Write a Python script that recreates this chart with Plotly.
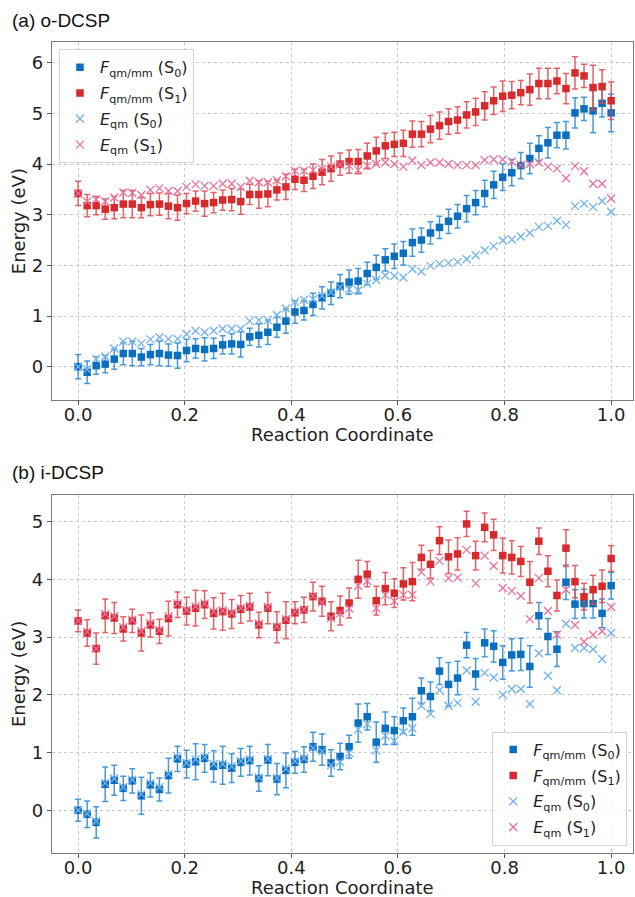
import numpy as np
import plotly.graph_objects as go

# Reaction coordinate: 60 evenly spaced images from 0 to 1
reaction_coord = np.linspace(0.0, 1.0, 60)

# ---------------- (a) o-DCSP ----------------
a_F_S0 = [0.00, -0.11, 0.02, 0.05, 0.15, 0.26, 0.26, 0.19, 0.24, 0.26,
          0.23, 0.22, 0.32, 0.36, 0.34, 0.36, 0.43, 0.45, 0.44, 0.59,
          0.62, 0.68, 0.78, 0.90, 1.08, 1.11, 1.23, 1.36, 1.45, 1.59,
          1.67, 1.69, 1.84, 1.96, 2.11, 2.18, 2.24, 2.45, 2.50, 2.64,
          2.75, 2.87, 2.97, 3.12, 3.24, 3.42, 3.59, 3.74, 3.83, 3.97,
          4.11, 4.31, 4.42, 4.57, 4.57, 5.01, 5.09, 5.05, 5.20, 5.01]
a_F_S0_err = [0.24, 0.22, 0.17, 0.17, 0.20, 0.22, 0.24, 0.17, 0.20, 0.24,
              0.22, 0.25, 0.22, 0.19, 0.23, 0.20, 0.18, 0.20, 0.25, 0.17,
              0.23, 0.24, 0.20, 0.24, 0.22, 0.19, 0.22, 0.22, 0.22, 0.23,
              0.24, 0.25, 0.22, 0.24, 0.22, 0.24, 0.23, 0.27, 0.24, 0.22,
              0.22, 0.24, 0.23, 0.26, 0.24, 0.26, 0.27, 0.26, 0.26, 0.26,
              0.30, 0.25, 0.30, 0.25, 0.27, 0.30, 0.23, 0.43, 0.27, 0.37]
a_F_S1 = [3.42, 3.18, 3.18, 3.11, 3.14, 3.21, 3.21, 3.14, 3.20, 3.21,
          3.17, 3.14, 3.22, 3.27, 3.22, 3.24, 3.29, 3.30, 3.26, 3.40,
          3.40, 3.41, 3.49, 3.55, 3.70, 3.68, 3.76, 3.84, 3.91, 4.00,
          4.05, 4.05, 4.16, 4.26, 4.36, 4.39, 4.41, 4.59, 4.59, 4.69,
          4.76, 4.84, 4.87, 4.97, 5.03, 5.15, 5.25, 5.34, 5.36, 5.41,
          5.47, 5.59, 5.59, 5.64, 5.49, 5.80, 5.74, 5.51, 5.53, 5.25]
a_F_S1_err = [0.24, 0.22, 0.18, 0.20, 0.22, 0.27, 0.27, 0.20, 0.22, 0.22,
              0.25, 0.25, 0.20, 0.20, 0.25, 0.20, 0.20, 0.22, 0.25, 0.20,
              0.27, 0.25, 0.20, 0.25, 0.20, 0.22, 0.24, 0.25, 0.25, 0.22,
              0.23, 0.24, 0.25, 0.27, 0.25, 0.24, 0.26, 0.26, 0.25, 0.27,
              0.27, 0.25, 0.26, 0.26, 0.27, 0.28, 0.27, 0.30, 0.27, 0.24,
              0.31, 0.30, 0.30, 0.25, 0.30, 0.32, 0.23, 0.44, 0.33, 0.37]
a_E_S0 = [0.00, -0.05, 0.16, 0.20, 0.36, 0.50, 0.50, 0.46, 0.54, 0.58,
          0.55, 0.55, 0.64, 0.71, 0.68, 0.71, 0.75, 0.75, 0.75, 0.90,
          0.92, 0.92, 1.02, 1.15, 1.28, 1.32, 1.33, 1.40, 1.47, 1.57,
          1.53, 1.51, 1.64, 1.71, 1.80, 1.79, 1.76, 1.93, 1.88, 1.99,
          2.03, 2.05, 2.07, 2.12, 2.20, 2.30, 2.38, 2.49, 2.51, 2.57,
          2.64, 2.76, 2.78, 2.88, 2.80, 3.17, 3.22, 3.15, 3.27, 3.06]
a_E_S1 = [3.42, 3.26, 3.30, 3.26, 3.34, 3.44, 3.43, 3.39, 3.49, 3.52,
          3.47, 3.47, 3.55, 3.60, 3.57, 3.57, 3.61, 3.61, 3.55, 3.67,
          3.64, 3.64, 3.68, 3.76, 3.87, 3.87, 3.88, 3.90, 3.95, 3.99,
          3.97, 3.88, 3.97, 4.00, 4.03, 4.00, 3.95, 4.07, 3.98, 4.03,
          4.03, 4.00, 3.98, 3.98, 3.98, 4.08, 4.09, 4.09, 4.05, 3.98,
          4.00, 4.03, 3.95, 3.91, 3.72, 3.96, 3.86, 3.61, 3.61, 3.32]

# ---------------- (b) i-DCSP ----------------
b_F_S0 = [0.00, -0.07, -0.21, 0.45, 0.52, 0.38, 0.51, 0.25, 0.44, 0.36,
          0.60, 0.89, 0.80, 0.84, 0.90, 0.76, 0.78, 0.73, 0.83, 0.86,
          0.55, 0.87, 0.54, 0.69, 0.83, 0.88, 1.10, 1.05, 0.82, 0.93,
          1.10, 1.51, 1.62, 1.18, 1.42, 1.38, 1.55, 1.62, 2.07, 1.97,
          2.41, 2.18, 2.29, 2.86, 2.36, 2.90, 2.84, 2.56, 2.69, 2.70,
          2.49, 3.37, 3.01, 2.79, 3.95, 3.57, 3.58, 3.58, 3.41, 3.89]
b_F_S0_err = [0.19, 0.23, 0.27, 0.30, 0.26, 0.21, 0.21, 0.32, 0.21, 0.20,
              0.30, 0.22, 0.24, 0.31, 0.24, 0.27, 0.33, 0.25, 0.24, 0.25,
              0.22, 0.27, 0.27, 0.30, 0.19, 0.22, 0.25, 0.27, 0.23, 0.23,
              0.20, 0.33, 0.23, 0.35, 0.28, 0.24, 0.22, 0.32, 0.22, 0.25,
              0.23, 0.38, 0.29, 0.22, 0.27, 0.24, 0.27, 0.29, 0.28, 0.28,
              0.36, 0.23, 0.31, 0.30, 0.30, 0.25, 0.25, 0.25, 0.25, 0.23]
b_F_S1 = [3.28, 3.07, 2.80, 3.37, 3.33, 3.14, 3.28, 3.07, 3.21, 3.10,
          3.32, 3.56, 3.45, 3.50, 3.56, 3.41, 3.44, 3.40, 3.48, 3.52,
          3.21, 3.50, 3.17, 3.29, 3.42, 3.47, 3.70, 3.62, 3.36, 3.46,
          3.59, 4.00, 4.09, 3.63, 3.84, 3.76, 3.92, 3.96, 4.38, 4.26,
          4.67, 4.39, 4.44, 4.96, 4.41, 4.90, 4.77, 4.41, 4.38, 4.31,
          3.95, 4.66, 4.14, 3.72, 4.54, 3.96, 3.70, 3.82, 3.88, 4.36]
b_F_S1_err = [0.19, 0.23, 0.27, 0.29, 0.27, 0.21, 0.20, 0.31, 0.21, 0.21,
              0.30, 0.22, 0.24, 0.31, 0.24, 0.27, 0.32, 0.25, 0.24, 0.24,
              0.22, 0.27, 0.27, 0.32, 0.19, 0.22, 0.25, 0.26, 0.25, 0.25,
              0.26, 0.33, 0.22, 0.25, 0.28, 0.25, 0.28, 0.33, 0.21, 0.24,
              0.24, 0.29, 0.28, 0.22, 0.25, 0.25, 0.27, 0.30, 0.29, 0.26,
              0.36, 0.23, 0.27, 0.27, 0.32, 0.28, 0.23, 0.25, 0.28, 0.22]
b_E_S0 = [0.00, -0.06, -0.19, 0.47, 0.55, 0.40, 0.53, 0.28, 0.47, 0.40,
          0.63, 0.92, 0.82, 0.88, 0.92, 0.80, 0.80, 0.76, 0.85, 0.88,
          0.57, 0.89, 0.56, 0.72, 0.85, 0.90, 1.08, 1.02, 0.78, 0.84,
          0.99, 1.40, 1.49, 1.04, 1.29, 1.20, 1.35, 1.42, 1.81, 1.67,
          2.08, 1.81, 1.86, 2.42, 1.88, 2.38, 2.30, 2.00, 2.10, 2.10,
          1.84, 2.72, 2.33, 2.08, 3.23, 2.81, 2.81, 2.79, 2.62, 3.07]
b_E_S1 = [3.28, 3.09, 2.80, 3.40, 3.36, 3.17, 3.30, 3.10, 3.24, 3.12,
          3.36, 3.58, 3.47, 3.53, 3.58, 3.44, 3.46, 3.42, 3.50, 3.54,
          3.23, 3.52, 3.18, 3.31, 3.44, 3.48, 3.71, 3.60, 3.33, 3.41,
          3.50, 3.89, 3.97, 3.50, 3.73, 3.62, 3.73, 3.73, 4.12, 3.96,
          4.32, 4.02, 4.03, 4.51, 3.93, 4.41, 4.23, 3.85, 3.80, 3.71,
          3.31, 4.02, 3.45, 3.04, 3.82, 3.21, 2.92, 3.04, 3.10, 3.52]

x_ticks = [0.0, 0.2, 0.4, 0.6, 0.8, 1.0]
x_tick_labels = ["0.0", "0.2", "0.4", "0.6", "0.8", "1.0"]
a_y_ticks = [0, 1, 2, 3, 4, 5, 6]
b_y_ticks = [0, 1, 2, 3, 4, 5]

names = ["<i>F</i><sub>qm/mm</sub> (S<sub>0</sub>)",
         "<i>F</i><sub>qm/mm</sub> (S<sub>1</sub>)",
         "<i>E</i><sub>qm</sub> (S<sub>0</sub>)",
         "<i>E</i><sub>qm</sub> (S<sub>1</sub>)"]

C_F0 = "#0a6fbf"
C_F0_ERR = "rgba(40,135,210,0.85)"
C_F1 = "#d62a2d"
C_F1_ERR = "rgba(222,70,75,0.85)"
C_E0 = "#72b2f2"
C_E1 = "#ec7098"

fig = go.Figure()


def add_panel(xa, ya, legend, F0, F0e, F1, F1e, E0, E1):
    fig.add_trace(go.Scatter(
        x=reaction_coord, y=F0, mode="markers", name=names[0],
        xaxis=xa, yaxis=ya, legend=legend, legendgroup=legend + "1",
        marker=dict(symbol="square", size=7.5, color=C_F0),
        error_y=dict(type="data", array=F0e, visible=True,
                     color=C_F0_ERR, thickness=1.5, width=3)))
    fig.add_trace(go.Scatter(
        x=reaction_coord, y=F1, mode="markers", name=names[1],
        xaxis=xa, yaxis=ya, legend=legend, legendgroup=legend + "2",
        marker=dict(symbol="square", size=7.5, color=C_F1),
        error_y=dict(type="data", array=F1e, visible=True,
                     color=C_F1_ERR, thickness=1.5, width=3)))
    fig.add_trace(go.Scatter(
        x=reaction_coord, y=E0, mode="markers", name=names[2],
        xaxis=xa, yaxis=ya, legend=legend, legendgroup=legend + "3",
        marker=dict(symbol="x-thin", size=8, color=C_E0,
                    line=dict(color=C_E0, width=1.3))))
    fig.add_trace(go.Scatter(
        x=reaction_coord, y=E1, mode="markers", name=names[3],
        xaxis=xa, yaxis=ya, legend=legend, legendgroup=legend + "4",
        marker=dict(symbol="x-thin", size=8, color=C_E1,
                    line=dict(color=C_E1, width=1.3))))


add_panel("x", "y", "legend", a_F_S0, a_F_S0_err, a_F_S1, a_F_S1_err, a_E_S0, a_E_S1)
add_panel("x2", "y2", "legend2", b_F_S0, b_F_S0_err, b_F_S1, b_F_S1_err, b_E_S0, b_E_S1)

tick_font = dict(family="DejaVu Sans", size=18, color="#222222")
axis_common = dict(
    showline=True, linecolor="#7a7a7a", linewidth=1.2, mirror=True,
    showgrid=True, gridcolor="#c9c9c9", gridwidth=0.8, griddash="dot",
    zeroline=False, ticks="outside", ticklen=4, tickcolor="#555555",
    tickfont=tick_font, automargin=False,
)
title_font = dict(family="DejaVu Sans", size=18, color="#222222")

fig.update_layout(
    width=635, height=897,
    margin=dict(l=52, r=2, t=42, b=44, autoexpand=False),
    paper_bgcolor="white", plot_bgcolor="white",
    showlegend=True,
    xaxis=dict(domain=[0, 1], anchor="y", range=[-0.049, 1.041],
               tickvals=x_ticks, ticktext=x_tick_labels,
               ticklabelstandoff=-6, **axis_common),
    yaxis=dict(domain=[0.5586, 1.0], anchor="x", range=[-0.657, 6.41],
               tickvals=a_y_ticks, **axis_common),
    xaxis2=dict(domain=[0, 1], anchor="y2", range=[-0.049, 1.041],
                tickvals=x_ticks, ticktext=x_tick_labels,
                ticklabelstandoff=-6, **axis_common),
    yaxis2=dict(domain=[0.0, 0.4414], anchor="x2", range=[-0.74, 5.46],
                tickvals=b_y_ticks, **axis_common),
    legend=dict(x=0.012, y=0.991, xanchor="left", yanchor="top",
                bgcolor="rgba(255,255,255,0.85)", bordercolor="#d5d5d5",
                borderwidth=1, tracegroupgap=2,
                font=dict(family="DejaVu Sans", size=16, color="#222222")),
    legend2=dict(x=0.99, y=0.009, xanchor="right", yanchor="bottom",
                 bgcolor="rgba(255,255,255,0.85)", bordercolor="#d5d5d5",
                 borderwidth=1, tracegroupgap=2,
                 font=dict(family="DejaVu Sans", size=16, color="#222222")),
    annotations=[
        dict(text="(a) o-DCSP", xref="paper", yref="paper",
             x=-0.0723, y=1.027, xanchor="left", yanchor="middle",
             showarrow=False,
             font=dict(family="Liberation Sans", size=19, color="#111111")),
        dict(text="(b) i-DCSP", xref="paper", yref="paper",
             x=-0.0723, y=0.4686, xanchor="left", yanchor="middle",
             showarrow=False,
             font=dict(family="Liberation Sans", size=19, color="#111111")),
        dict(text="Reaction Coordinate", xref="paper", yref="paper",
             x=0.5, y=0.5155, xanchor="center", yanchor="middle",
             showarrow=False, font=title_font),
        dict(text="Reaction Coordinate", xref="paper", yref="paper",
             x=0.5, y=-0.0425, xanchor="center", yanchor="middle",
             showarrow=False, font=title_font),
        dict(text="Energy (eV)", xref="paper", yref="paper",
             x=-0.0585, y=0.779, xanchor="center", yanchor="middle",
             textangle=-90, showarrow=False, font=title_font),
        dict(text="Energy (eV)", xref="paper", yref="paper",
             x=-0.0585, y=0.2207, xanchor="center", yanchor="middle",
             textangle=-90, showarrow=False, font=title_font),
    ],
)

fig.write_html("out.html",
               config={"displayModeBar": False},
               post_script="document.body.style.margin='0';"
                           "document.body.style.overflow='hidden';")
